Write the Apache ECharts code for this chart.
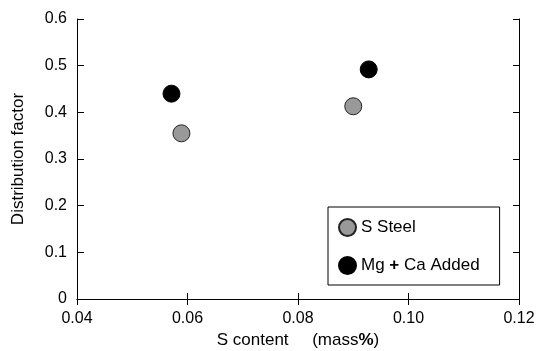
<!DOCTYPE html>
<html>
<head>
  <meta charset="utf-8">
  <script src="https://cdn.jsdelivr.net/npm/echarts@6/dist/echarts.min.js"></script>
  <style>
    * { margin: 0; padding: 0; }
    html, body, #chart { width: 539px; height: 351px; background: #fff; overflow: hidden; }
  </style>
</head>
<body>
  <div id="chart"></div>
  <script>
    // S content (mass%) vs distribution factor
    var sSteel = [[0.0589, 0.355], [0.0900, 0.413]];
    var mgCaAdded = [[0.0571, 0.440], [0.0928, 0.492]];
    var seriesNames = ['S Steel', 'Mg + Ca Added'];
    var xName = 'S content     (mass{b|%})';
    var yName = 'Distribution factor';

    var font = 'Liberation Sans, Arial, Helvetica, sans-serif';

    function mirrorAxis(pos, min, max, interval) {
      return {
        type: 'value', position: pos, min: min, max: max, interval: interval,
        axisLine: { show: true, lineStyle: { color: '#000', width: 1 } },
        axisTick: { show: true, inside: true, length: 6, lineStyle: { color: '#000' } },
        axisLabel: { show: false },
        splitLine: { show: false }
      };
    }

    var chart = echarts.init(document.getElementById('chart'));
    chart.setOption({
      animation: false,
      textStyle: { fontFamily: font },
      grid: { left: 77, right: 20, top: 19, bottom: 52, containLabel: false, outerBoundsMode: 'none' },
      legend: {
        orient: 'vertical',
        left: 328,
        top: 207,
        padding: [11, 20, 10, 10],
        itemGap: 19,
        itemWidth: 17,
        itemHeight: 17,
        borderColor: '#000',
        borderWidth: 1,
        data: seriesNames,
        formatter: function (name) {
          return name === 'Mg + Ca Added' ? 'Mg {b|+} Ca Added' : name;
        },
        textStyle: {
          fontFamily: font, fontSize: 17, color: '#000',
          rich: { b: { fontWeight: 'bold', fontSize: 17, fontFamily: font } }
        }
      },
      xAxis: [{
        type: 'value', min: 0.04, max: 0.12, interval: 0.02,
        name: xName, nameLocation: 'middle', nameGap: 33,
        nameTextStyle: {
          fontFamily: font, fontSize: 17, color: '#000',
          rich: { b: { fontWeight: 'bold', fontSize: 17, fontFamily: font } }
        },
        axisLine: { lineStyle: { color: '#000', width: 1 } },
        axisTick: { inside: true, length: 6, lineStyle: { color: '#000' } },
        axisLabel: {
          margin: 12, fontSize: 16, color: '#000', fontFamily: font,
          formatter: function (v) { return v.toFixed(2); }
        },
        splitLine: { show: false }
      }, mirrorAxis('top', 0.04, 0.12, 0.02)],
      yAxis: [{
        type: 'value', min: 0, max: 0.6, interval: 0.1,
        name: yName, nameLocation: 'middle', nameGap: 50,
        nameTextStyle: { fontFamily: font, fontSize: 17, color: '#000' },
        axisLine: { lineStyle: { color: '#000', width: 1 } },
        axisTick: { inside: true, length: 7, lineStyle: { color: '#000' } },
        axisLabel: {
          margin: 10, fontSize: 16, color: '#000', fontFamily: font,
          formatter: function (v) { return v === 0 ? '0' : v.toFixed(1); }
        },
        splitLine: { show: false }
      }, mirrorAxis('right', 0, 0.6, 0.1)],
      series: [{
        name: seriesNames[0],
        type: 'scatter',
        symbolSize: 17,
        data: sSteel,
        itemStyle: { color: '#999999', borderColor: '#222', borderWidth: 1, opacity: 1 }
      }, {
        name: seriesNames[1],
        type: 'scatter',
        symbolSize: 17,
        data: mgCaAdded,
        itemStyle: { color: '#000', borderColor: '#000', borderWidth: 1, opacity: 1 }
      }]
    });
  </script>
</body>
</html>
